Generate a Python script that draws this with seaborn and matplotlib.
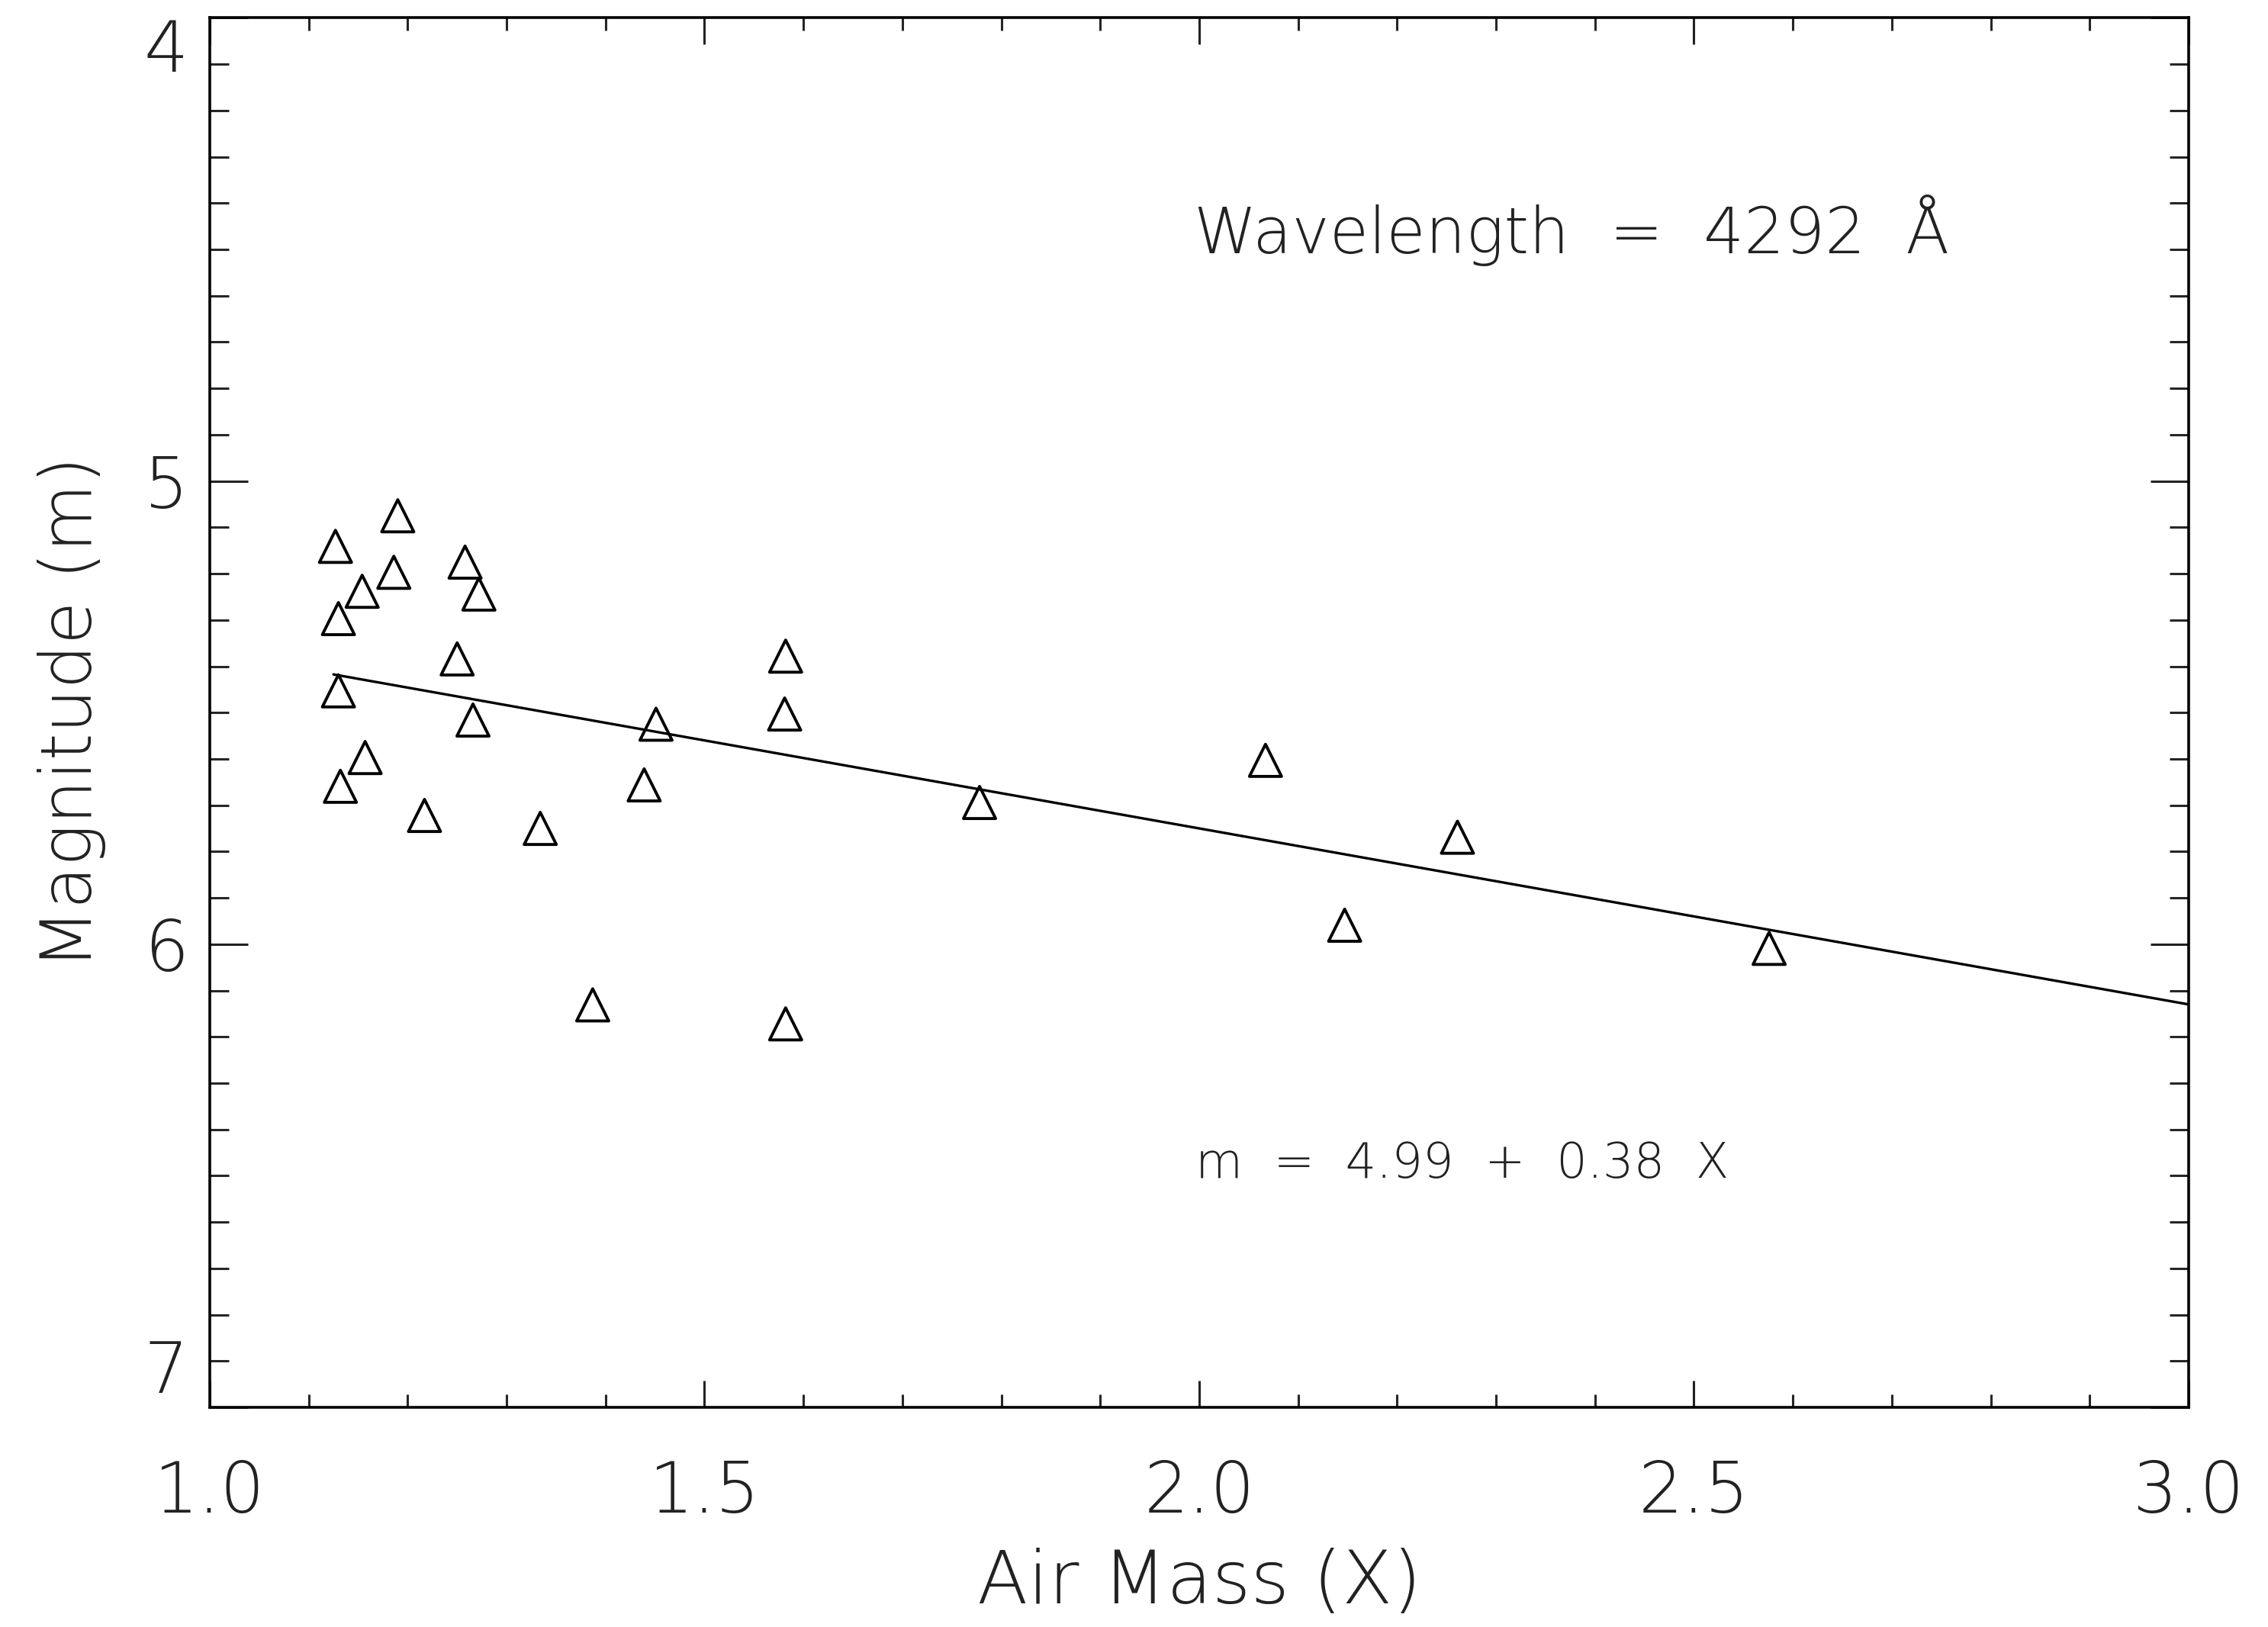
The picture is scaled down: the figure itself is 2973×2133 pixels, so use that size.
import numpy as np
import pandas as pd
import matplotlib
matplotlib.use("Agg")
import matplotlib.pyplot as plt
from matplotlib.ticker import MultipleLocator
import seaborn as sns

# ---- data ----
air_mass = [1.127, 1.190, 1.130, 1.154, 1.186, 1.258, 1.272, 1.250, 1.130, 1.266,
            1.157, 1.132, 1.217, 1.334, 1.439, 1.451, 1.582, 1.581, 1.387, 1.582,
            1.778, 2.067, 2.147, 2.261, 2.576]
magnitude = [5.141, 5.075, 5.297, 5.238, 5.197, 5.175, 5.244, 5.384, 5.453, 5.516,
             5.597, 5.659, 5.722, 5.750, 5.656, 5.525, 5.378, 5.503, 6.131, 6.172,
             5.694, 5.603, 5.959, 5.769, 6.009]
fit_intercept = 4.99
fit_slope = 0.38
fit_x = [1.125, 3.0]

x_ticks = [1.0, 1.5, 2.0, 2.5, 3.0]
x_ticklabels = ["1.0", "1.5", "2.0", "2.5", "3.0"]
y_ticks = [4, 5, 6, 7]
y_ticklabels = ["4", "5", "6", "7"]

x_label = "Air Mass (X)"
y_label = "Magnitude (m)"
wave_text = "Wavelength  =  4292  Å"
eq_text = "m  =  4.99  +  0.38  X"

df = pd.DataFrame({"X": air_mass, "m": magnitude})
fit_df = pd.DataFrame({"X": fit_x,
                       "m": [fit_intercept + fit_slope * v for v in fit_x]})

sns.set_theme(style="ticks")
plt.rcParams["font.family"] = ["DejaVu Sans"]
plt.rcParams["font.weight"] = "light"

fig = plt.figure(figsize=(14.865, 10.665), dpi=200)
ax = fig.add_axes([0.0925, 0.135, 0.8725, 0.854])

sns.lineplot(data=fit_df, x="X", y="m", ax=ax, color="black", linewidth=1.2)
sns.scatterplot(data=df, x="X", y="m", ax=ax, marker="^", s=230,
                facecolor="none", edgecolor="black", linewidth=1.4)

ax.set_xlim(1.0, 3.0)
ax.set_ylim(7.0, 4.0)

ax.set_xticks(x_ticks)
ax.set_xticklabels(x_ticklabels)
ax.set_yticks(y_ticks)
ax.set_yticklabels(y_ticklabels)
ax.xaxis.set_minor_locator(MultipleLocator(0.1))
ax.yaxis.set_minor_locator(MultipleLocator(0.1))

ax.tick_params(axis="x", which="major", direction="in", length=12.5, width=1.1,
               top=True, bottom=True, labelsize=33, pad=24, colors="#222222")
ax.tick_params(axis="x", which="minor", direction="in", length=6, width=1.1,
               top=True, bottom=True)
ax.tick_params(axis="y", which="major", direction="in", length=18, width=1.1,
               left=True, right=True, labelsize=33, pad=10, colors="#222222")
ax.tick_params(axis="y", which="minor", direction="in", length=9, width=1.1,
               left=True, right=True)
for lab in ax.get_xticklabels() + ax.get_yticklabels():
    lab.set_fontweight("light")
ylabs = ax.get_yticklabels()
ylabs[0].set_verticalalignment("top")
ylabs[-1].set_verticalalignment("bottom")

for sp in ax.spines.values():
    sp.set_linewidth(1.3)
    sp.set_color("black")
    sp.set_visible(True)

ax.set_xlabel(x_label, fontsize=35, fontweight="light", labelpad=10, color="#222222")
ax.set_ylabel(y_label, fontsize=33, fontweight="light", labelpad=18, color="#222222")

ax.text(1.995, 4.46, wave_text, fontsize=30, fontweight="light",
        ha="left", va="center", color="#222222")
ax.text(1.996, 6.475, eq_text, fontsize=23, fontweight="light",
        ha="left", va="center", color="#222222")

fig.savefig("out.png", dpi=200, facecolor="white")
